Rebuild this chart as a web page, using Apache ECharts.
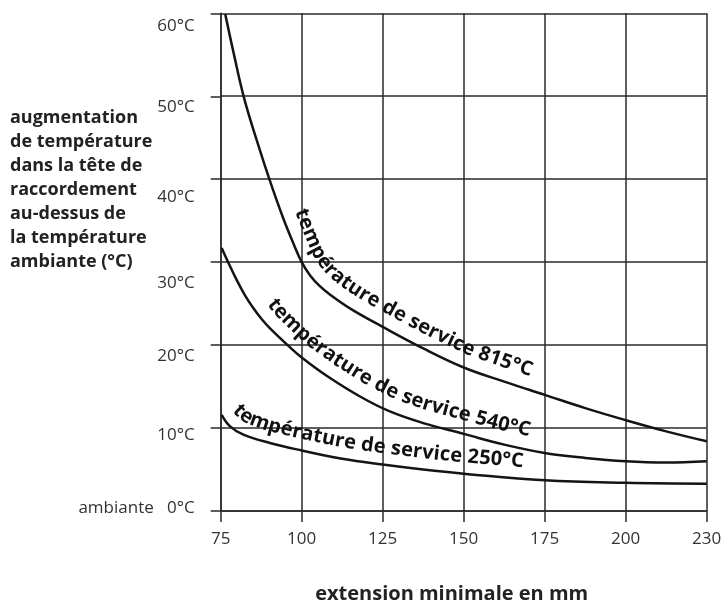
<!DOCTYPE html>
<html><head><meta charset="utf-8">
<script src="https://cdn.jsdelivr.net/npm/echarts@6/dist/echarts.min.js"></script>
<style>html,body{margin:0;padding:0;background:#fff}#c{width:727px;height:609px}</style>
</head><body><div id="c"></div>
<script>
// ---- data ----
const xTicks = [75, 100, 125, 150, 175, 200, 225];
const xTickLabels = ['75', '100', '125', '150', '175', '200', '230'];
const yTicks = [0, 10, 20, 30, 40, 50, 60];
const yTickLabels = ['ambiante   0°C', '10°C', '20°C', '30°C', '40°C', '50°C', '60°C'];
const xTitle = 'extension minimale en mm';
const yTitleLines = ['augmentation', 'de température', 'dans la tête de', 'raccordement', 'au-dessus de', 'la température', 'ambiante (°C)'];
const seriesNames = ['température de service 815°C', 'température de service 540°C', 'température de service 250°C'];

const x815 = [76.4, 79, 82.2, 86.6, 90.2, 94.3, 97.5, 100, 102.6, 105.6, 108.7, 115, 125, 137.5, 150, 162.5, 175, 187.5, 200, 212.5, 225];
const y815 = [59.9, 55.2, 49.8, 44.1, 39.8, 35.3, 32.2, 30.0, 28.4, 27.1, 26.1, 24.4, 22.2, 19.6, 17.3, 15.6, 14.0, 12.4, 10.95, 9.6, 8.4];

const x540 = [75.3, 77.4, 80, 82.5, 85, 87.5, 90, 95.9, 100, 107.7, 118, 127.2, 137.5, 150, 162.5, 175, 187.5, 200, 212.5, 225];
const y540 = [31.7, 29.9, 27.8, 26.0, 24.5, 23.2, 22.1, 19.9, 18.5, 16.3, 13.8, 12.0, 10.6, 9.3, 8.0, 7.0, 6.4, 6.0, 5.85, 6.0];

const x250 = [75.3, 77.9, 82, 90.2, 100, 112.5, 125, 137.5, 150, 175, 200, 225];
const y250 = [11.6, 10.2, 9.2, 8.2, 7.3, 6.3, 5.6, 5.0, 4.5, 3.7, 3.4, 3.3];

// ---- chart ----
const chart = echarts.init(document.getElementById('c'), null, {renderer: 'canvas'});
const yShift = [-3, 7, 11, 21, 18, 11, 13];
const rich = {};
yShift.forEach((s, i) => {
  rich['o' + i] = {
    fontFamily: 'Open Sans', fontSize: 17, color: '#333',
    padding: s >= 0 ? [2 * s, 0, 0, 0] : [0, 0, -2 * s, 0]
  };
});
const gridColor = '#2a2a2a';
const curveColor = '#141414';
const pairs = (xs, ys) => xs.map((x, i) => [x, ys[i]]);

chart.setOption({
  animation: false,
  backgroundColor: '#fff',
  grid: {left: 220.7, right: 20.3, top: 13.3, bottom: 97.3, containLabel: false},
  xAxis: {
    type: 'value', min: 75, max: 225, interval: 25,
    name: xTitle, nameLocation: 'middle', nameGap: 73,
    nameTextStyle: {fontFamily: 'Open Sans', fontWeight: 'bold', fontSize: 20, color: '#222', padding: [0, 24, 0, 0]},
    axisLine: {show: true, lineStyle: {color: gridColor, width: 1.5}},
    axisTick: {show: true, length: 11, lineStyle: {color: gridColor, width: 1.5}},
    axisLabel: {margin: 20, fontFamily: 'Open Sans', fontSize: 17, color: '#333',
      formatter: v => xTickLabels[xTicks.indexOf(v)] || ''},
    splitLine: {show: true, lineStyle: {color: gridColor, width: 1.5}}
  },
  yAxis: {
    type: 'value', min: 0, max: 60, interval: 10,
    axisLine: {show: true, lineStyle: {color: gridColor, width: 1.5}},
    axisTick: {show: true, length: 10, lineStyle: {color: gridColor, width: 1.5}},
    axisLabel: {margin: 26, rich: rich,
      formatter: v => { const i = yTicks.indexOf(v); return '{o' + i + '|' + yTickLabels[i] + '}'; }},
    splitLine: {show: true, lineStyle: {color: gridColor, width: 1.5}}
  },
  series: [
    {name: seriesNames[0], type: 'line', smooth: 0.4, showSymbol: false, data: pairs(x815, y815), lineStyle: {color: curveColor, width: 2.5}},
    {name: seriesNames[1], type: 'line', smooth: 0.4, showSymbol: false, data: pairs(x540, y540), lineStyle: {color: curveColor, width: 2.5}},
    {name: seriesNames[2], type: 'line', smooth: 0.4, showSymbol: false, data: pairs(x250, y250), lineStyle: {color: curveColor, width: 2.5}}
  ]
});

// ---- labels along curves ----
const labelFont = 'bold 20px "Open Sans"';
const mctx = document.createElement('canvas').getContext('2d');
mctx.font = labelFont;

function curveLabel(text, xs, ys, startX, offset, spacing) {
  const pts = [];
  for (let i = 0; i < xs.length - 1; i++) {
    const a = chart.convertToPixel({gridIndex: 0}, [xs[i], ys[i]]);
    const b = chart.convertToPixel({gridIndex: 0}, [xs[i + 1], ys[i + 1]]);
    const n = Math.max(1, Math.ceil(Math.hypot(b[0] - a[0], b[1] - a[1]) / 2));
    for (let k = 0; k < n; k++) {
      pts.push([a[0] + (b[0] - a[0]) * k / n, a[1] + (b[1] - a[1]) * k / n, xs[i] + (xs[i + 1] - xs[i]) * k / n]);
    }
  }
  const last = chart.convertToPixel({gridIndex: 0}, [xs[xs.length - 1], ys[ys.length - 1]]);
  pts.push([last[0], last[1], xs[xs.length - 1]]);
  const W = 10;
  const tan = (arr, i) => {
    const a = arr[Math.max(0, i - W)], b = arr[Math.min(arr.length - 1, i + W)];
    let tx = b[0] - a[0], ty = b[1] - a[1];
    const L = Math.hypot(tx, ty) || 1;
    return [tx / L, ty / L];
  };
  const shift = d => pts.map((p, i) => { const t = tan(pts, i); return [p[0] + t[1] * d, p[1] - t[0] * d, p[2]]; });
  const off = shift(offset);
  const base = shift(offset - 6);
  const s = [0];
  for (let i = 1; i < base.length; i++) s.push(s[i - 1] + Math.hypot(base[i][0] - base[i - 1][0], base[i][1] - base[i - 1][1]));
  let i0 = off.findIndex(p => p[2] >= startX);
  if (i0 < 0) i0 = 0;
  let cur = s[i0];
  const els = [];
  for (const ch of text) {
    const w = mctx.measureText(ch).width;
    const mid = cur + w / 2;
    let j = i0;
    while (j < s.length - 2 && s[j + 1] < mid) j++;
    const f = (mid - s[j]) / ((s[j + 1] - s[j]) || 1);
    const px = off[j][0] + (off[j + 1][0] - off[j][0]) * f;
    const py = off[j][1] + (off[j + 1][1] - off[j][1]) * f;
    const t = tan(off, j);
    const ang = Math.atan2(t[1], t[0]);
    if (ch !== ' ') {
      els.push({type: 'text', x: px, y: py, rotation: -ang, silent: true,
        style: {text: ch, font: labelFont, fill: '#111', align: 'center', verticalAlign: 'middle',
          textAlign: 'center', textVerticalAlign: 'middle'}});
    }
    cur += w + spacing;
  }
  return els;
}

const graphics = [];
graphics.push({type: 'text', left: 10, top: 106, silent: true,
  style: {text: yTitleLines.join('\n'), font: 'bold 18px "Open Sans"', fill: '#222', lineHeight: 24}});
graphics.push(...curveLabel(seriesNames[0], x815, y815, 94.0, 19, 0.2));
graphics.push(...curveLabel(seriesNames[1], x540, y540, 86.0, 19, 0.2));
graphics.push(...curveLabel(seriesNames[2], x250, y250, 76.2, 17, 0.2));
chart.setOption({graphic: graphics});
</script>
</body></html>
